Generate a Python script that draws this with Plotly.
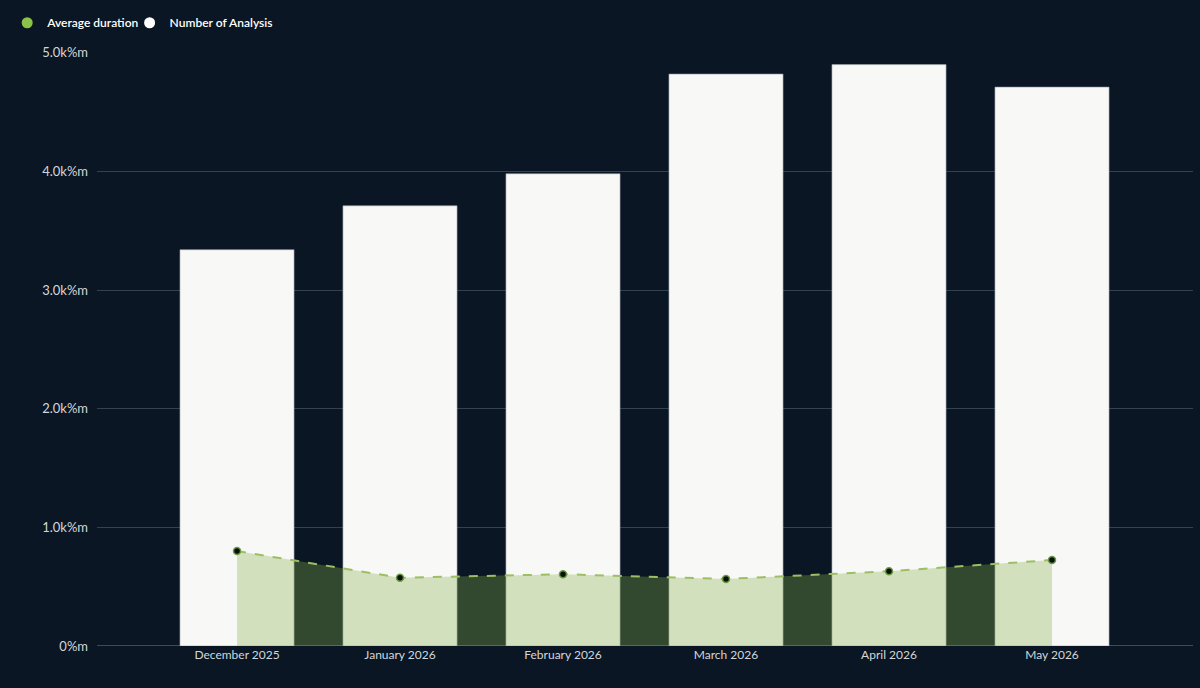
import plotly.graph_objects as go

months = ["December 2025", "January 2026", "February 2026", "March 2026", "April 2026", "May 2026"]
analysis_count = [3340, 3710, 3980, 4820, 4900, 4710]
avg_duration = [800, 575, 605, 565, 630, 725]

y_tick_vals = [0, 1000, 2000, 3000, 4000, 5000]
y_tick_text = ["0%m", "1.0k%m", "2.0k%m", "3.0k%m", "4.0k%m", "5.0k%m"]

bg = "#0a1623"
green = "#8bc34a"

fig = go.Figure()

# bars first so the line + fill sit on top of them
fig.add_trace(go.Bar(
    x=months, y=analysis_count, name="Number of Analysis",
    marker=dict(color="#f8f8f7", line=dict(color="#9aa0a6", width=0.6)),
    width=0.7, showlegend=False,
))
fig.add_trace(go.Scatter(
    x=months, y=avg_duration, name="Average duration",
    mode="lines+markers", fill="tozeroy",
    fillcolor="rgba(133,176,73,0.33)",
    line=dict(color="#9cbf63", width=2, dash="dash"),
    marker=dict(color="#07120a", size=7, line=dict(color="#6f9a45", width=1.5)),
    showlegend=False,
))

# legend entries with round symbols (two legends so the spacing can be tighter)
fig.add_trace(go.Scatter(x=[None], y=[None], mode="markers", name="Average duration",
                         marker=dict(color=green, size=11, symbol="circle"), legend="legend"))
fig.add_trace(go.Scatter(x=[None], y=[None], mode="markers", name="Number of Analysis",
                         marker=dict(color="#ffffff", size=11, symbol="circle"), legend="legend2"))

leg = dict(orientation="h", xref="container", yref="container",
           y=0.988, xanchor="left", yanchor="top",
           font=dict(color="#ffffff", size=12, weight=600),
           itemwidth=30, bgcolor="rgba(0,0,0,0)")

fig.update_layout(
    width=1200, height=688,
    paper_bgcolor=bg, plot_bgcolor=bg,
    margin=dict(l=97, r=7, t=50, b=42),
    font=dict(family="Lato, 'Open Sans', sans-serif", color="#d3d6da", size=12),
    legend=dict(leg, x=0.006),
    legend2=dict(leg, x=0.108),
    hovermode="x",
)
fig.update_xaxes(
    type="category", range=[-0.859, 5.865],
    showgrid=False, zeroline=False, showline=False,
    ticks="", tickfont=dict(size=12, color="#d3d6da"),
)
fig.update_yaxes(
    range=[0, 5000], tickvals=y_tick_vals, ticktext=y_tick_text,
    showgrid=True, gridcolor="#33424f", gridwidth=1,
    zeroline=True, zerolinecolor="#3e4c59", zerolinewidth=1,
    showline=False, ticks="", ticklabelstandoff=8,
    tickfont=dict(size=13, color="#d3d6da"),
)

fig.write_html("out.html", config={"displayModeBar": False},
               post_script="document.body.style.margin='0';")
